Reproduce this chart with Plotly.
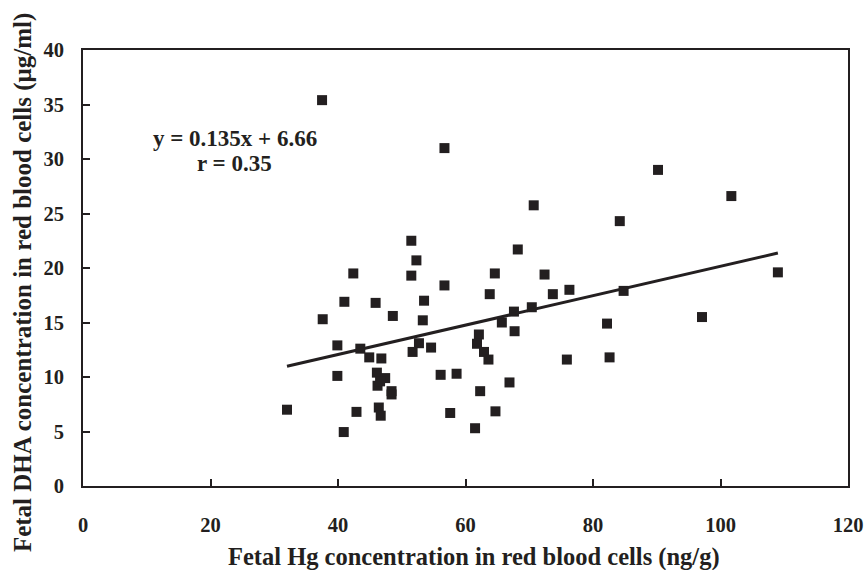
import plotly.graph_objects as go

# Data
hg = [37.5, 56.7, 90.2, 101.7, 70.7, 84.2, 51.5, 68.2, 52.3, 42.4, 51.5, 64.6, 72.4,
      109.0, 56.7, 76.3, 73.7, 63.8, 84.8, 41.0, 45.9, 53.5, 70.4, 67.6, 48.6, 37.6,
      53.3, 65.7, 97.1, 82.2, 67.7, 62.1, 52.7, 39.9, 61.8, 43.5, 54.6, 62.9, 51.7,
      44.9, 46.8, 63.6, 75.9, 82.6, 46.1, 56.1, 58.6, 39.9, 47.4, 46.2, 46.6, 66.9,
      48.4, 48.4, 62.3, 32.0, 46.4, 42.9, 46.7, 57.6, 64.7, 40.9, 61.5]
dha = [35.4, 31.0, 29.0, 26.6, 25.75, 24.3, 22.5, 21.7, 20.7, 19.5, 19.3, 19.5, 19.4,
       19.6, 18.4, 18.0, 17.6, 17.6, 17.9, 16.9, 16.8, 17.0, 16.4, 16.0, 15.6, 15.3,
       15.2, 15.0, 15.5, 14.9, 14.2, 13.9, 13.1, 12.9, 13.05, 12.6, 12.7, 12.3, 12.3,
       11.8, 11.7, 11.6, 11.6, 11.8, 10.4, 10.2, 10.3, 10.1, 9.9, 9.2, 9.6, 9.5,
       8.7, 8.4, 8.7, 7.0, 7.2, 6.8, 6.45, 6.7, 6.85, 4.95, 5.3]

slope = 0.135
intercept = 6.66
fit_x = [32.0, 109.0]
fit_y = [slope * v + intercept for v in fit_x]

x_ticks = [0, 20, 40, 60, 80, 100, 120]
y_ticks = [0, 5, 10, 15, 20, 25, 30, 35, 40]

ink = "#231f20"
font_family = "Liberation Serif, Times New Roman, serif"

fig = go.Figure()
fig.add_trace(go.Scatter(x=hg, y=dha, mode="markers",
                         marker=dict(symbol="square", size=10, color=ink, line=dict(width=0)),
                         showlegend=False))
fig.add_trace(go.Scatter(x=fit_x, y=fit_y, mode="lines",
                         line=dict(color=ink, width=3), showlegend=False))

fig.add_annotation(x=23.8, y=31.9, xref="x", yref="y", text="<b>y = 0.135x + 6.66</b>",
                   showarrow=False, font=dict(family=font_family, size=23, color=ink))
fig.add_annotation(x=23.8, y=29.6, xref="x", yref="y", text="<b>r = 0.35</b>",
                   showarrow=False, font=dict(family=font_family, size=23, color=ink))

# axis titles
fig.add_annotation(x=0.511, y=-0.163, xref="paper", yref="paper",
                   text="<b>Fetal Hg concentration in red blood cells (ng/g)</b>",
                   showarrow=False, xanchor="center", yanchor="middle",
                   font=dict(family=font_family, size=24.5, color=ink))
fig.add_annotation(x=-0.079, y=0.4667, xref="paper", yref="paper", textangle=-90,
                   text="<b>Fetal DHA concentration in red blood cells (μg/ml)</b>",
                   showarrow=False, xanchor="center", yanchor="middle",
                   font=dict(family=font_family, size=25, color=ink))

axis_common = dict(showgrid=False, zeroline=False, showline=True, linecolor=ink, linewidth=2,
                   mirror=True, ticks="inside", ticklen=7, tickwidth=1.5, tickcolor=ink,
                   automargin=False, ticklabeloverflow="allow",
                   tickfont=dict(family=font_family, size=20.5, color=ink))

fig.update_xaxes(range=[0, 120], tickvals=x_ticks, ticktext=[f"<b>{t}</b>" for t in x_ticks],
                 ticklabelstandoff=19, **axis_common)
fig.update_yaxes(range=[0, 40], tickvals=y_ticks, ticktext=[f"<b>{t}</b>" for t in y_ticks],
                 ticklabelstandoff=13, **axis_common)

fig.update_layout(width=867, height=570, plot_bgcolor="white", paper_bgcolor="white",
                  margin=dict(l=83, r=19, t=50, b=84), showlegend=False)

# remove the default page margin so the figure fills the window exactly
fig.write_html("out.html", config={"displayModeBar": False},
               post_script="document.body.style.margin='0';"
                           "document.body.style.overflow='hidden';")
